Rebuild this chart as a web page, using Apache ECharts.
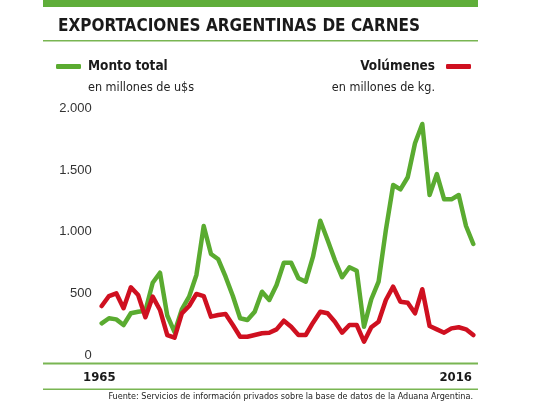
<!DOCTYPE html>
<html><head><meta charset="utf-8">
<script src="https://cdn.jsdelivr.net/npm/echarts@6/dist/echarts.min.js"></script>
<style>html,body{margin:0;padding:0;background:#fff}#c{width:540px;height:405px}</style>
</head><body><div id="c"></div>
<script>
const years = [];
for (let y = 1965; y <= 2016; y++) years.push(String(y));
const montoTotal = [257,298,289,243,338,351,359,586,667,320,186,370,473,649,1046,819,776,635,478,298,284,351,513,446,567,748,748,622,
  594,797,1089,932,770,630,711,683,229,452,594,1013,1378,1343,1441,1716,1873,1297,1467,1262,1262,1297,1046,900];
const volumenes = [397,478,500,379,549,486,306,473,365,162,140,338,397,495,478,311,324,332,243,148,148,162,176,181,208,278,229,162,
  162,262,351,338,270,181,243,243,108,225,270,446,554,432,424,338,533,235,208,181,216,225,208,162];
const yTicks = [0,500,1000,1500,2000];
const endLabels = [years[0], years[years.length-1]];
const titleText = 'EXPORTACIONES ARGENTINAS DE CARNES';
const seriesNames = ['Monto total','Volúmenes'];
const units = ['en millones de u$s','en millones de kg.'];
const sourceText = 'Fuente: Servicios de información privados sobre la base de datos de la Aduana Argentina.';

const GREEN = '#5aab30', RED = '#cf1020', RULE = '#79b552';
const NARROW = "'DejaVu Sans Condensed','Liberation Sans Narrow',sans-serif";

const chart = echarts.init(document.getElementById('c'));
chart.setOption({
  animation: false,
  backgroundColor: '#fff',
  title: [
    {text: titleText, left: 58, top: 18, padding: 0, textStyle: {fontFamily: NARROW, fontWeight: 'bold', fontSize: 17, color: '#1a1a1a'}},
    {text: units[0], left: 88, top: 81.5, padding: 0, textStyle: {fontFamily: NARROW, fontWeight: 'normal', fontSize: 12.5, color: '#222'}},
    {text: units[1], right: 105, top: 81.5, padding: 0, textStyle: {fontFamily: NARROW, fontWeight: 'normal', fontSize: 12.5, color: '#222'}},
    {text: sourceText, right: 67, top: 392.5, padding: 0, textStyle: {fontFamily: NARROW, fontWeight: 'normal', fontSize: 9, color: '#222'}}
  ],
  legend: [
    {data: [seriesNames[0]], left: 56, top: 59.5, padding: 0, icon: 'roundRect', itemWidth: 25, itemHeight: 5, align: 'left',
     textStyle: {fontFamily: NARROW, fontWeight: 'bold', fontSize: 13.5, color: '#1a1a1a', padding: [0,0,0,2]}},
    {data: [seriesNames[1]], right: 69, top: 59.5, padding: 0, icon: 'roundRect', itemWidth: 25, itemHeight: 5, align: 'right',
     textStyle: {fontFamily: NARROW, fontWeight: 'bold', fontSize: 13.5, color: '#1a1a1a', padding: [0,6,0,0]}}
  ],
  grid: {left: 101.7, right: 66.7, top: 108.3, bottom: 50, containLabel: false},
  xAxis: {type: 'category', data: years, boundaryGap: false,
    axisLine: {show: false}, axisTick: {show: false}, axisLabel: {show: false}, splitLine: {show: false}},
  yAxis: {type: 'value', min: yTicks[0], max: yTicks[yTicks.length-1], interval: yTicks[1]-yTicks[0],
    axisLine: {show: false}, axisTick: {show: false}, splitLine: {show: false},
    axisLabel: {margin: 10, fontFamily: "'Liberation Sans',Arial,sans-serif", fontSize: 13, color: '#333',
      formatter: v => String(v).replace(/\B(?=(\d{3})+(?!\d))/g, '.')}},
  series: [
    {name: seriesNames[0], type: 'line', data: montoTotal, symbol: 'none', color: GREEN,
     lineStyle: {width: 4.5, color: GREEN, cap: 'round', join: 'round'}},
    {name: seriesNames[1], type: 'line', data: volumenes, symbol: 'none', color: RED,
     lineStyle: {width: 4.5, color: RED, cap: 'round', join: 'round'}}
  ],
  graphic: [
    {type: 'rect', shape: {x: 43, y: 0, width: 435, height: 7}, style: {fill: '#5fae3a'}},
    {type: 'rect', shape: {x: 43, y: 40, width: 435, height: 1.5}, style: {fill: RULE}},
    {type: 'rect', shape: {x: 43, y: 362.5, width: 435, height: 2}, style: {fill: RULE}},
    {type: 'rect', shape: {x: 43, y: 388.5, width: 435, height: 1.5}, style: {fill: RULE}},
    {type: 'text', left: 83, top: 371, style: {text: endLabels[0], fontFamily: NARROW, fontWeight: 'bold', fontSize: 13, fill: '#1a1a1a'}},
    {type: 'text', right: 68, top: 371, style: {text: endLabels[1], fontFamily: NARROW, fontWeight: 'bold', fontSize: 13, fill: '#1a1a1a'}}
  ]
});
</script></body></html>
